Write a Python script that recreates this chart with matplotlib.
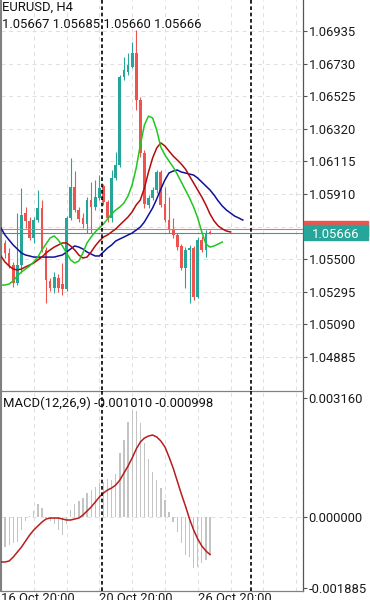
import numpy as np
import matplotlib.pyplot as plt
from matplotlib.patches import Rectangle
from matplotlib.transforms import blended_transform_factory

plt.rcParams['font.family'] = ['Roboto', 'DejaVu Sans']

symbol = 'EURUSD, H4'
last_ohlc = '1.05667 1.05685 1.05660 1.05666'
macd_title = 'MACD(12,26,9) -0.001010 -0.000998'

# H4 bars: index -1 is 16 Oct 20:00, index 50 is the live bar (27 Oct 08:00)
bars = np.arange(-1, 51)
opens = [1.05444, 1.05602, 1.05539, 1.05463, 1.05350, 1.05463, 1.05790, 1.05740,
         1.05633, 1.05746, 1.05822, 1.05558, 1.05363, 1.05318, 1.05381, 1.05344,
         1.05312, 1.05759, 1.05954, 1.05809, 1.05759, 1.05721, 1.05872, 1.05828,
         1.05885, 1.05960, 1.05859, 1.05759, 1.06010, 1.06092, 1.06646, 1.06677,
         1.06709, 1.06797, 1.06501, 1.06168, 1.05841, 1.05885, 1.05935, 1.06048,
         1.05847, 1.05746, 1.05690, 1.05652, 1.05583, 1.05444, 1.05558, 1.05570,
         1.05262, 1.05620, 1.05558, 1.05667]
highs = [1.05620, 1.05620, 1.05570, 1.05482, 1.05790, 1.05947, 1.05828, 1.05765,
         1.05765, 1.05935, 1.05872, 1.05576, 1.05381, 1.05419, 1.05407, 1.05476,
         1.05771, 1.06136, 1.06054, 1.05828, 1.05790, 1.05891, 1.05985, 1.05998,
         1.06029, 1.05973, 1.05872, 1.06061, 1.06174, 1.06658, 1.06771, 1.06797,
         1.06866, 1.06941, 1.06520, 1.06187, 1.05903, 1.05954, 1.06061, 1.06061,
         1.05954, 1.05891, 1.05759, 1.05664, 1.05595, 1.05576, 1.05589, 1.05583,
         1.05639, 1.05646, 1.05683, 1.05685]
lows = [1.05432, 1.05507, 1.05444, 1.05325, 1.05337, 1.05413, 1.05696, 1.05620,
        1.05602, 1.05734, 1.05545, 1.05224, 1.05300, 1.05287, 1.05293, 1.05274,
        1.05300, 1.05746, 1.05797, 1.05734, 1.05696, 1.05664, 1.05664, 1.05809,
        1.05872, 1.05841, 1.05734, 1.05734, 1.05998, 1.06080, 1.06627, 1.06658,
        1.06702, 1.06438, 1.06142, 1.05822, 1.05822, 1.05872, 1.05916, 1.05828,
        1.05734, 1.05664, 1.05633, 1.05558, 1.05432, 1.05318, 1.05224, 1.05243,
        1.05256, 1.05545, 1.05513, 1.05660]
closes = [1.05589, 1.05539, 1.05463, 1.05350, 1.05463, 1.05778, 1.05740, 1.05633,
          1.05746, 1.05822, 1.05558, 1.05369, 1.05318, 1.05388, 1.05318, 1.05312,
          1.05759, 1.05954, 1.05809, 1.05753, 1.05721, 1.05872, 1.05828, 1.05891,
          1.05947, 1.05859, 1.05759, 1.06010, 1.06092, 1.06646, 1.06690, 1.06721,
          1.06797, 1.06501, 1.06168, 1.05847, 1.05885, 1.05935, 1.06048, 1.05841,
          1.05746, 1.05690, 1.05652, 1.05576, 1.05444, 1.05558, 1.05570, 1.05262,
          1.05620, 1.05558, 1.05664, 1.05666]

# Alligator lines, shifted forward by 8, 5 and 3 bars
jaw_x = np.arange(-1, 59)
jaw = [1.05696, 1.05652, 1.05620, 1.05589, 1.05564, 1.05539, 1.05526, 1.05520,
       1.05513, 1.05513, 1.05513, 1.05513, 1.05513, 1.05513, 1.05520, 1.05526,
       1.05545, 1.05564, 1.05583, 1.05576, 1.05564, 1.05545, 1.05532, 1.05520,
       1.05520, 1.05545, 1.05570, 1.05589, 1.05614, 1.05627, 1.05639, 1.05652,
       1.05664, 1.05683, 1.05702, 1.05734, 1.05778, 1.05822, 1.05878, 1.05941,
       1.05998, 1.06042, 1.06054, 1.06061, 1.06048, 1.06042, 1.06035, 1.06029,
       1.06010, 1.05985, 1.05960, 1.05935, 1.05903, 1.05866, 1.05834, 1.05809,
       1.05790, 1.05771, 1.05759, 1.05746]
teeth_x = np.arange(-1, 56)
teeth = [1.05520, 1.05482, 1.05457, 1.05438, 1.05432, 1.05438, 1.05451, 1.05463,
         1.05476, 1.05495, 1.05513, 1.05539, 1.05558, 1.05576, 1.05589, 1.05602,
         1.05602, 1.05583, 1.05558, 1.05526, 1.05507, 1.05513, 1.05545, 1.05583,
         1.05614, 1.05639, 1.05652, 1.05671, 1.05690, 1.05715, 1.05740, 1.05765,
         1.05797, 1.05841, 1.05872, 1.05947, 1.06048, 1.06136, 1.06199, 1.06231,
         1.06212, 1.06180, 1.06149, 1.06124, 1.06098, 1.06067, 1.06023, 1.05979,
         1.05935, 1.05891, 1.05841, 1.05784, 1.05740, 1.05709, 1.05690, 1.05677,
         1.05671]
lips_x = np.arange(-1, 54)
lips = [1.05337, 1.05337, 1.05344, 1.05363, 1.05394, 1.05419, 1.05438, 1.05457,
        1.05482, 1.05513, 1.05558, 1.05595, 1.05633, 1.05646, 1.05620, 1.05583,
        1.05539, 1.05495, 1.05476, 1.05488, 1.05539, 1.05602, 1.05639, 1.05671,
        1.05696, 1.05721, 1.05753, 1.05784, 1.05809, 1.05828, 1.05853, 1.05897,
        1.05966, 1.06073, 1.06218, 1.06344, 1.06400, 1.06388, 1.06312, 1.06205,
        1.06155, 1.06117, 1.06080, 1.06035, 1.05985, 1.05935, 1.05885, 1.05828,
        1.05759, 1.05671, 1.05595, 1.05576, 1.05583, 1.05595, 1.05608]

macd_hist = [-0.000929, -0.000797, -0.000744, -0.000690, -0.000664, -0.000345,
             -0.000106, 0.000020, 0.000159, 0.000345, 0.000239, -0.000030,
             -0.000106, -0.000186, -0.000345, -0.000478, -0.000186, 0.000186,
             0.000345, 0.000425, 0.000505, 0.000637, 0.000717, 0.000797,
             0.000903, 0.000929, 0.001009, 0.000983, 0.001142, 0.001700,
             0.002045, 0.002523, 0.002841, 0.002815, 0.002496, 0.001965,
             0.001540, 0.001195, 0.000983, 0.000770, 0.000451, 0.000133,
             -0.000133, -0.000398, -0.000690, -0.001009, -0.001062, -0.001354,
             -0.001328, -0.001222, -0.001142, -0.001010]
macd_signal = [-0.001195, -0.001195, -0.001168, -0.001062, -0.000929, -0.000797,
               -0.000637, -0.000478, -0.000345, -0.000239, -0.000133, -0.000053,
               -0.000027, -0.000027, -0.000027, -0.000053, -0.000080, -0.000080,
               -0.000053, -0.000027, 0.000053, 0.000159, 0.000266, 0.000398,
               0.000531, 0.000637, 0.000717, 0.000770, 0.000850, 0.000982,
               0.001168, 0.001354, 0.001567, 0.001805, 0.001991, 0.002097,
               0.002151, 0.002177, 0.002124, 0.002018, 0.001859, 0.001593,
               0.001301, 0.000956, 0.000611, 0.000292, -0.000053, -0.000345,
               -0.000584, -0.000770, -0.000903, -0.000998]

bid = 1.05666
ask = 1.05692

price_ticks = [1.04885, 1.05090, 1.05295, 1.05500, 1.05705, 1.05910,
               1.06115, 1.06320, 1.06525, 1.06730, 1.06935]
macd_ticks = [-0.001885, 0.0, 0.003160]
macd_tick_labels = ['-0.001885', '0.000000', '0.003160']
time_ticks = [-1, 23, 47]
time_labels = ['16 Oct 20:00', '20 Oct 20:00', '26 Oct 20:00']
grid_bars = np.arange(-1, 73, 8)
separators = [23.7, 59.9]

W, H = 370, 600
fig = plt.figure(figsize=(W / 100, H / 100), dpi=100)
ax = fig.add_axes([1 / W, 210 / H, 302 / W, 390 / H])
ax2 = fig.add_axes([1 / W, 9 / H, 302 / W, 200 / H])

teal = '#26a69a'
red = '#ef5350'
grid_kw = dict(color='#dedede', lw=0.7, dashes=(4, 4), zorder=1)
sep_kw = dict(color='black', lw=1.2, dashes=(2.2, 1.6), zorder=6)

# candles
o = np.array(opens)
c = np.array(closes)
colors = [teal if cc >= oo else red for oo, cc in zip(o, c)]
ax.vlines(bars, lows, highs, colors=colors, lw=0.8, zorder=3)
ax.bar(bars, np.maximum(np.abs(c - o), 0.00006), bottom=np.minimum(o, c),
       width=0.68, color=colors, lw=0, zorder=4)

ax.axhline(ask, color='#e57373', lw=0.8, zorder=4.5)
ax.axhline(bid, color=teal, lw=0.8, zorder=4.5)

ax.plot(jaw_x, jaw, color='#10109c', lw=1.1, zorder=5)
ax.plot(teeth_x, teeth, color='#b40c0c', lw=1.1, zorder=5)
ax.plot(lips_x, lips, color='#1ec81e', lw=1.1, zorder=5)

for t in price_ticks:
    ax.axhline(t, **grid_kw)
for g in grid_bars:
    ax.axvline(g, **grid_kw)
    ax2.axvline(g, **grid_kw)
ax2.axhline(0, **grid_kw)
for s in separators:
    ax.axvline(s, **sep_kw)
    ax2.axvline(s, **sep_kw)

# MACD
ax2.bar(bars, macd_hist, width=0.32, color='#c4c4c4', lw=0, zorder=2)
ax2.plot(bars, macd_signal, color='#b81c1c', lw=1.1, zorder=3)

ymin, ymax = 1.04677, 1.07130
ax.set_ylim(ymin, ymax)
ax2.set_ylim(-0.001965, 0.003346)

for a in (ax, ax2):
    a.set_xlim(-0.976, 72.68)
    a.yaxis.tick_right()
    a.tick_params(axis='y', length=3, width=0.8, color='#555555', pad=1,
                  labelsize=9.4, labelcolor='#1a1a1a')
    a.spines['left'].set_color('#808080')
    a.spines['left'].set_linewidth(1.5)
    a.spines['right'].set_color('#555555')
    a.spines['right'].set_linewidth(0.9)
    a.spines['top'].set_color('#808080')
    a.spines['bottom'].set_color('#808080')
    a.spines['top'].set_linewidth(0.9)
    a.spines['bottom'].set_linewidth(0.9)
ax.spines['top'].set_visible(False)
ax.spines['bottom'].set_visible(False)

ax.set_yticks(price_ticks, ['' if abs(t - 1.05705) < 1e-9 else f'{t:.5f}' for t in price_ticks])
ax.set_xticks([])
ax2.set_yticks(macd_ticks, macd_tick_labels)
ax2.set_xticks(time_ticks, time_labels)
ax2.tick_params(axis='x', length=0, pad=0.5, labelsize=9.4, labelcolor='#1a1a1a')
for lbl in ax2.get_xticklabels():
    lbl.set_ha('left')

# current price labels on the price scale (bid label sits on top of the ask label)
trans = blended_transform_factory(ax.transAxes, ax.transData)
box_h = 15 / 390 * (ymax - ymin)
for k, (price, col) in enumerate([(ask, red), (bid, teal)]):
    ax.add_patch(Rectangle((1.0033, price - box_h / 2), 0.212, box_h, transform=trans,
                           color=col, clip_on=False, zorder=7 + 2 * k))
    ax.text(1.0033 + 0.106, price, f'{price:.5f}', transform=trans, color='white',
            ha='center', va='center_baseline', fontsize=9.4, zorder=7.5 + 2 * k,
            clip_on=False)

fig.text(2.5 / W, 1 - 11 / H, symbol, fontsize=9.4, color='#111111', va='baseline')
fig.text(2.5 / W, 1 - 28 / H, last_ohlc, fontsize=9.4, color='#111111', va='baseline')
fig.text(3 / W, 1 - 407 / H, macd_title, fontsize=9.4, color='#111111', va='baseline')

fig.savefig('out.png', dpi=100)
